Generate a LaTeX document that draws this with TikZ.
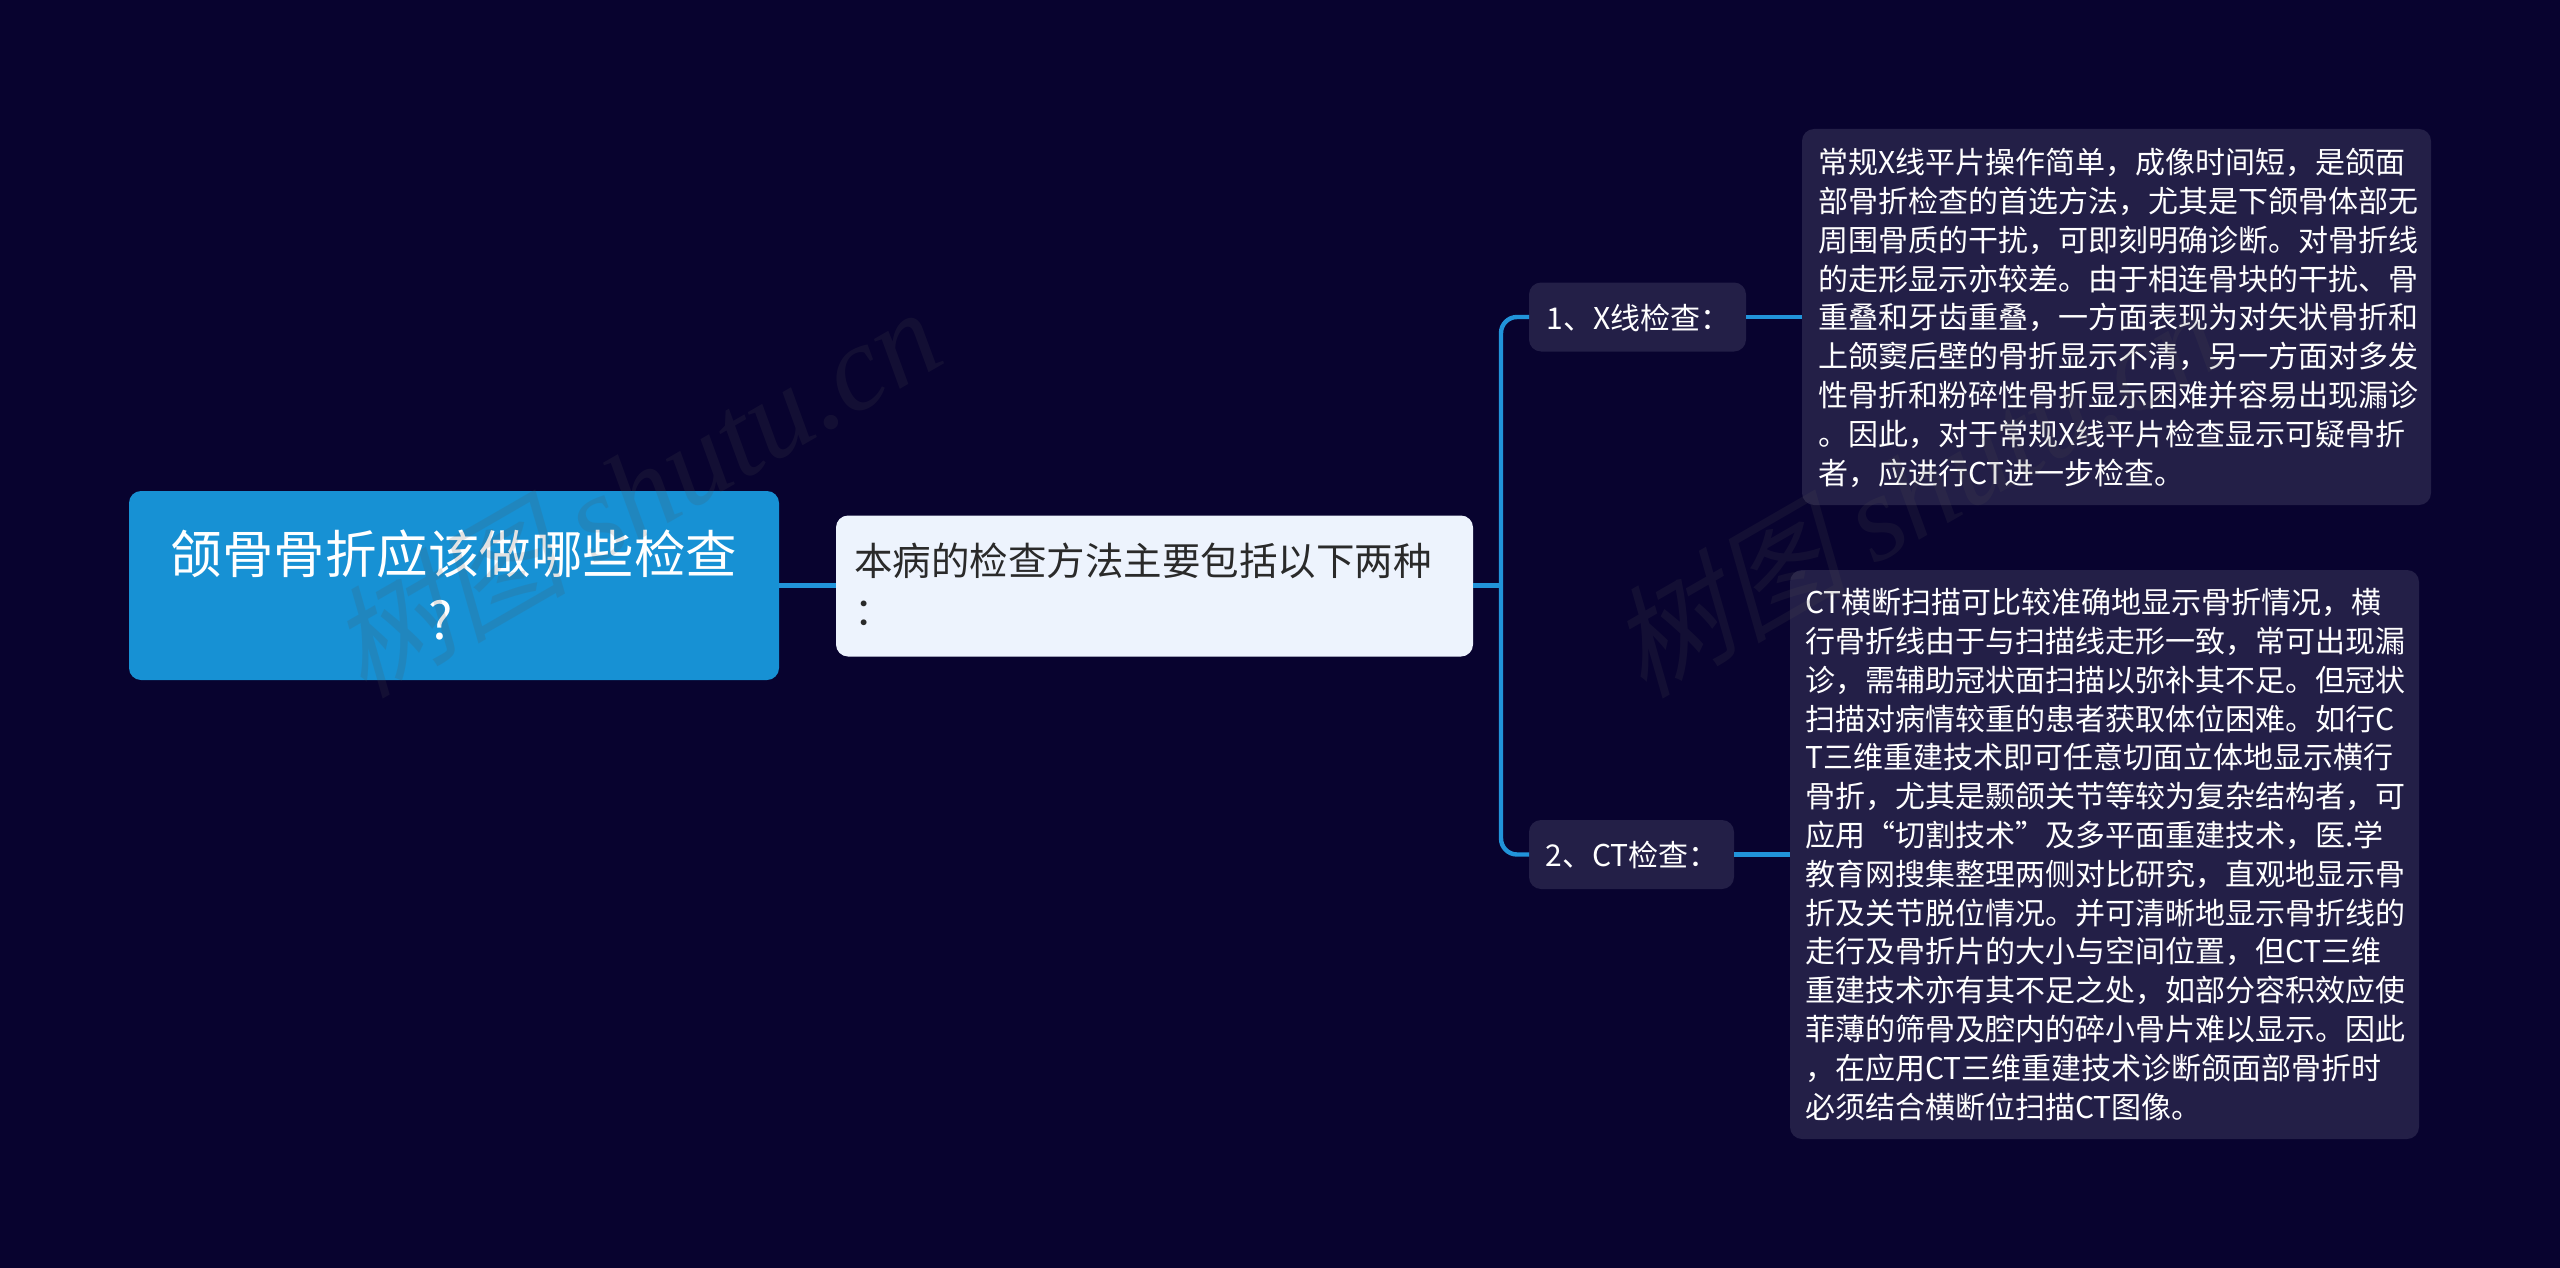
\documentclass[tikz,border=0pt]{standalone}
\usepackage{fontspec}
\setmainfont{Noto Sans CJK SC}
\newfontfamily\wmcjk[FakeSlant=0.25]{Noto Sans CJK SC}
\newfontfamily\wmlat{Liberation Serif}
\newcommand{\fwc}{\char"FF0C\relax}
\newcommand{\fwd}{\char"FF1A\relax}
\definecolor{bgc}{HTML}{08032F}
\definecolor{rootc}{HTML}{1791D4}
\definecolor{mainc}{HTML}{EDF3FD}
\definecolor{darkc}{HTML}{231F47}
\definecolor{linec}{HTML}{2194DA}
\definecolor{txtc}{HTML}{2A2A2A}
\definecolor{wmc}{HTML}{505050}
\tikzset{
 px/.style={x=0.5pt,y=-0.5pt},
 boxbase/.style={rounded corners=6pt,draw=none,inner sep=0pt,outer sep=0pt,minimum height=0pt},
 conn/.style={draw=linec,line width=2.2pt},
 body/.style={anchor=north west,align=left,inner sep=0pt,text=white,font=\fontsize{15pt}{19.4pt}\selectfont},
 watermark/.style={anchor=west,rotate=30,text=wmc,opacity=0.16,inner sep=0pt},
}
\begin{document}
\begin{tikzpicture}[px]
\useasboundingbox (0,0) rectangle (2560,1268);
\fill[bgc] (0,0) rectangle (2560,1268);
% boxes as named nodes
\node[boxbase,fill=rootc,minimum width=325pt,minimum height=94.5pt] (root) at (454,585.5) {};
\node[boxbase,fill=mainc,minimum width=318.5pt,minimum height=70.5pt] (main) at (1154.5,586) {};
\node[boxbase,fill=darkc,minimum width=108.5pt,minimum height=34.5pt] (xn) at (1637.5,317) {};
\node[boxbase,fill=darkc,minimum width=102.5pt,minimum height=34.5pt] (ctn) at (1631.5,854.5) {};
\node[boxbase,fill=darkc,minimum width=314.5pt,minimum height=188pt] (xt) at (2116.5,317) {};
\node[boxbase,fill=darkc,minimum width=314.5pt,minimum height=284.5pt] (ctt) at (2104.5,854.5) {};
% connectors
\coordinate (trunk) at (1501,585.5);
\draw[conn] (root.east) -- (root.east -| main.west);
\draw[conn] (main.east |- root.east) -- (trunk);
\draw[conn,rounded corners=8pt] (xn.west) -| (trunk) |- (ctn.west);
\draw[conn] (xn.east) -- (xt.west);
\draw[conn] (ctn.east) -- (ctt.west);
% labels
\node[anchor=center,align=center,inner sep=0pt,text=white,font=\fontsize{25.75pt}{33pt}\selectfont] (roottext) at (454,585) {颌骨骨折应该做哪些检查\\\mbox{?\hspace{13pt}}};
\node[anchor=north west,align=left,inner sep=0pt,text=txtc,font=\fontsize{19.25pt}{25pt}\selectfont] (maintext) at (854,542.5) {本病的检查方法主要包括以下两种\\\fwd};
\node[anchor=west,inner sep=0pt,text=white,font=\fontsize{15pt}{18pt}\selectfont] (xlabel) at (1546,318) {1、X线检查\fwd};
\node[anchor=west,inner sep=0pt,text=white,font=\fontsize{15pt}{18pt}\selectfont] (ctlabel) at (1545,855) {2、CT检查\fwd};
\node[body] (xbody) at (1818,148) {常规X线平片操作简单\fwc 成像时间短\fwc 是颌面\\部骨折检查的首选方法\fwc 尤其是下颌骨体部无\\周围骨质的干扰\fwc 可即刻明确诊断。对骨折线\\的走形显示亦较差。由于相连骨块的干扰、骨\\重叠和牙齿重叠\fwc 一方面表现为对矢状骨折和\\上颌窦后壁的骨折显示不清\fwc 另一方面对多发\\性骨折和粉碎性骨折显示困难并容易出现漏诊\\。因此\fwc 对于常规X线平片检查显示可疑骨折\\者\fwc 应进行CT进一步检查。};
\node[body] (ctbody) at (1805,588) {CT横断扫描可比较准确地显示骨折情况\fwc 横\\行骨折线由于与扫描线走形一致\fwc 常可出现漏\\诊\fwc 需辅助冠状面扫描以弥补其不足。但冠状\\扫描对病情较重的患者获取体位困难。如行C\\T三维重建技术即可任意切面立体地显示横行\\骨折\fwc 尤其是颞颌关节等较为复杂结构者\fwc 可\\应用“切割技术”及多平面重建技术\fwc 医.学\\教育网搜集整理两侧对比研究\fwc 直观地显示骨\\折及关节脱位情况。并可清晰地显示骨折线的\\走行及骨折片的大小与空间位置\fwc 但CT三维\\重建技术亦有其不足之处\fwc 如部分容积效应使\\菲薄的筛骨及腔内的碎小骨片难以显示。因此\\\fwc 在应用CT三维重建技术诊断颌面部骨折时\\必须结合横断位扫描CT图像。};
% watermarks
\node[watermark] (wm1) at (340,660) {\wmcjk\fontsize{60pt}{60pt}\selectfont 树图 \wmlat\itshape\fontsize{61pt}{61pt}\selectfont shutu.cn};
\node[watermark] (wm2) at (1620,660) {\wmcjk\fontsize{60pt}{60pt}\selectfont 树图 \wmlat\itshape\fontsize{61pt}{61pt}\selectfont shutu.cn};
\end{tikzpicture}
\end{document}
